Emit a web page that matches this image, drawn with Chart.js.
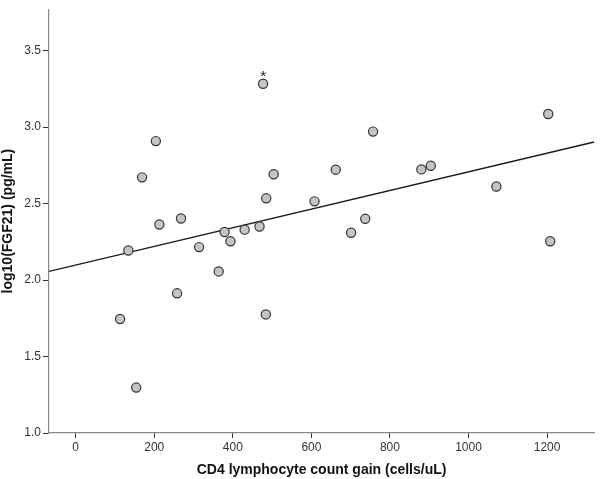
<!DOCTYPE html>
<html>
<head>
<meta charset="utf-8">
<script src="https://cdn.jsdelivr.net/npm/chart.js@4.4.1/dist/chart.umd.min.js"></script>
<style>
  html, body { margin: 0; padding: 0; background: #fff; }
  #wrap { width: 600px; height: 479px; }
</style>
</head>
<body>
<div id="wrap"><canvas id="scatter"></canvas></div>
<script>
// CD4 gain (cells/uL) vs log10(FGF21) (pg/mL)
const cd4Gain = [477, 204, 169, 504, 485, 213, 268, 379, 430, 468, 394,
                 757, 1203, 662, 880, 904, 608, 1071, 737, 701, 1208,
                 134, 314, 364, 258, 113, 484, 154];
const logFgf21 = [3.283, 2.908, 2.671, 2.691, 2.534, 2.363, 2.402, 2.314, 2.329, 2.350, 2.253,
                  2.970, 3.085, 2.721, 2.723, 2.747, 2.514, 2.611, 2.400, 2.309, 2.253,
                  2.193, 2.215, 2.056, 1.913, 1.745, 1.775, 1.297];
// outlier flagged with an asterisk
const outlierIndex = [0];

// fit line ends
const fitX = [-68, 1320];
const fitY = [2.056, 2.902];

const xTicks = [0, 200, 400, 600, 800, 1000, 1200];
const yTicks = [1.0, 1.5, 2.0, 2.5, 3.0, 3.5];

const points = cd4Gain.map((x, i) => ({ x: x, y: logFgf21[i] }));
const fitPoints = fitX.map((x, i) => ({ x: x, y: fitY[i] }));

// asterisk above flagged points
const starPlugin = {
  id: "star",
  afterDatasetsDraw(chart) {
    const meta = chart.getDatasetMeta(1);
    const c = chart.ctx;
    c.save();
    c.fillStyle = "#111";
    c.font = "15px Arial, 'Liberation Sans'";
    c.textAlign = "center";
    c.textBaseline = "alphabetic";
    outlierIndex.forEach((i) => {
      const el = meta.data[i];
      c.fillText("*", el.x, el.y - 3);
    });
    c.restore();
  }
};

new Chart(document.getElementById("scatter"), {
  type: "scatter",
  data: {
    datasets: [
      {
        type: "line",
        label: "Fit",
        data: fitPoints,
        borderColor: "#1a1a1a",
        borderWidth: 1.3,
        pointRadius: 0,
        fill: false,
        order: 2
      },
      {
        label: "Patients",
        data: points,
        backgroundColor: "#c4c4c4",
        borderColor: "#333",
        borderWidth: 1.2,
        pointRadius: 4.6,
        order: 1
      }
    ]
  },
  plugins: [starPlugin],
  options: {
    responsive: true,
    maintainAspectRatio: false,
    animation: false,
    layout: { padding: { top: 3, right: 0, left: 0, bottom: 0 } },
    plugins: {
      legend: { display: false },
      tooltip: { enabled: false }
    },
    scales: {
      x: {
        type: "linear",
        min: -68,
        max: 1320,
        afterBuildTicks: (axis) => { axis.ticks = xTicks.map((v) => ({ value: v })); },
        afterFit: (axis) => { axis.height = 46; },
        border: { display: true, color: "#888", width: 1.2 },
        grid: { display: true, drawOnChartArea: false, drawTicks: true, tickLength: 5, color: "#333" },
        ticks: {
          color: "#333",
          font: { family: "Arial, 'Liberation Sans'", size: 12 },
          padding: 2,
          maxRotation: 0,
          callback: (v) => String(v)
        },
        title: {
          display: true,
          text: "CD4 lymphocyte count gain (cells/uL)",
          color: "#111",
          font: { family: "Arial, 'Liberation Sans'", size: 14, weight: "bold" },
          padding: { top: 3, bottom: 0 }
        }
      },
      y: {
        type: "linear",
        min: 1.0,
        max: 3.77,
        afterBuildTicks: (axis) => { axis.ticks = yTicks.map((v) => ({ value: v })); },
        afterFit: (axis) => { axis.width = 49; },
        border: { display: true, color: "#888", width: 1.2 },
        grid: { display: true, drawOnChartArea: false, drawTicks: true, tickLength: 6, color: "#333" },
        ticks: {
          color: "#333",
          font: { family: "Arial, 'Liberation Sans'", size: 12 },
          padding: 2,
          callback: (v) => Number(v).toFixed(1)
        },
        title: {
          display: true,
          text: "log10(FGF21) (pg/mL)",
          color: "#111",
          font: { family: "Arial, 'Liberation Sans'", size: 14, weight: "bold" },
          padding: { top: 0, bottom: 4 }
        }
      }
    }
  }
});
</script>
</body>
</html>
